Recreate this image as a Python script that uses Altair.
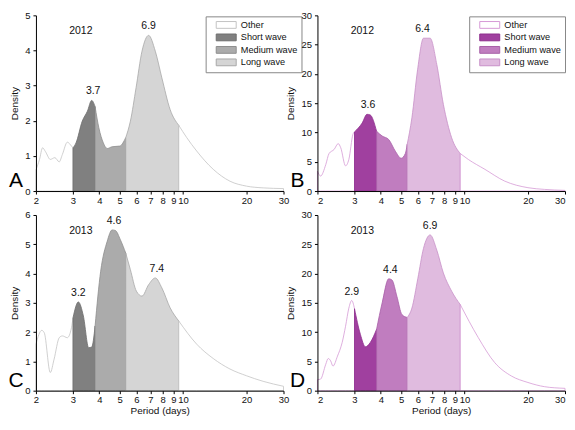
import altair as alt
import pandas as pd

FONT = "Liberation Sans"

seg_names = ["Other", "Short wave", "Medium wave", "Long wave"]
bounds_x = [2.0, 3.0, 3.82, 5.34, 9.54, 30.0]
x_ticks = [2, 3, 4, 5, 6, 7, 8, 9, 10, 20, 30]

# Panel A (2012, grey)
a_x = [2.0, 2.08, 2.15, 2.22, 2.34, 2.46, 2.58, 2.67, 2.82, 2.95, 3.0, 3.10, 3.32, 3.51, 3.68, 3.82,
       3.98, 4.18, 4.36, 4.60, 5.0, 5.34, 5.62, 5.98, 6.38, 6.86, 7.38, 7.93, 8.68, 9.54, 10.41,
       11.6, 13.9, 16.7, 20.0, 24.0, 30.0]
a_y = [0.6, 0.9, 1.23, 1.12, 0.9, 0.95, 0.83, 1.04, 1.39, 1.28, 1.23, 1.37, 1.99, 2.27, 2.58, 2.4,
       1.8, 1.37, 1.21, 1.26, 1.28, 1.52, 1.99, 2.94, 3.98, 4.43, 3.98, 3.22, 2.32, 1.87, 1.52,
       1.14, 0.62, 0.28, 0.14, 0.09, 0.07]
a_peak_x = [3.74, 6.86]
a_peak_y = [2.58, 4.43]
a_peak_lbl = ["3.7", "6.9"]

# Panel B (2012, purple)
b_x = [2.0, 2.07, 2.19, 2.27, 2.40, 2.51, 2.58, 2.72, 2.82, 2.95, 3.0, 3.26, 3.44, 3.56, 3.82, 4.06,
       4.36, 4.69, 5.0, 5.23, 5.34, 5.62, 5.98, 6.38, 6.86, 7.38, 7.93, 8.68, 9.54, 10.41, 12.5,
       15.5, 20.0, 24.0, 30.0]
b_y = [3.4, 2.56, 4.5, 6.4, 7.1, 8.1, 7.4, 4.3, 5.4, 9.7, 10.1, 11.6, 13.1, 13.0, 10.2, 9.4,
       8.8, 6.8, 5.6, 6.4, 8.0, 12.5, 20.7, 26.1, 26.1, 21.6, 14.8, 9.1, 6.4, 5.4, 3.7,
       1.7, 0.57, 0.28, 0.11]
b_peak_x = [3.48, 6.31]
b_peak_y = [13.1, 26.1]
b_peak_lbl = ["3.6", "6.4"]

# Panel C (2013, grey)
c_x = [2.0, 2.13, 2.19, 2.34, 2.44, 2.58, 2.67, 2.82, 2.95, 3.0, 3.18, 3.36, 3.56, 3.68, 3.82, 4.06,
       4.36, 4.60, 4.77, 5.04, 5.34, 5.62, 6.0, 6.38, 6.86, 7.38, 7.93, 8.68, 9.54, 11.6, 13.9,
       16.7, 20.0, 24.0, 30.0]
c_y = [1.59, 2.06, 1.98, 0.62, 1.08, 1.81, 1.87, 1.81, 2.15, 2.49, 3.03, 2.55, 1.47, 1.49, 2.21, 4.08,
       5.1, 5.49, 5.47, 5.15, 4.70, 4.13, 3.40, 3.23, 3.62, 3.85, 3.51, 2.83, 2.38, 1.59, 1.10,
       0.74, 0.51, 0.32, 0.15]
c_peak_x = [3.18, 4.70, 7.51]
c_peak_y = [3.03, 5.49, 3.85]
c_peak_lbl = ["3.2", "4.6", "7.4"]

# Panel D (2013, purple)
d_x = [2.0, 2.07, 2.19, 2.25, 2.31, 2.37, 2.49, 2.62, 2.72, 2.82, 2.91, 3.0, 3.2, 3.38, 3.56, 3.82,
       4.06, 4.36, 4.52, 4.77, 5.04, 5.34, 5.62, 6.0, 6.38, 6.86, 7.38, 7.93, 8.68, 9.54, 11.6,
       13.9, 16.7, 20.0, 24.0, 30.0]
d_y = [1.87, 1.98, 4.5, 5.5, 5.1, 4.2, 5.9, 8.2, 11.0, 14.1, 15.4, 14.0, 9.6, 7.5, 8.2, 10.5,
       15.0, 19.1, 18.9, 16.1, 13.0, 12.5, 14.1, 19.2, 24.3, 26.6, 24.0, 20.1, 17.0, 14.7, 9.1,
       4.8, 2.5, 1.4, 0.68, 0.40]
d_peak_x = [2.91, 4.44, 6.86]
d_peak_y = [15.4, 19.1, 26.6]
d_peak_lbl = ["2.9", "4.4", "6.9"]

grey_fill = ["#ffffff", "#808080", "#ababab", "#d5d5d5"]
grey_stroke = ["#c4c4c4", "#6e6e6e", "#8e8e8e", "#a8a8a8"]
purple_fill = ["#ffffff", "#a0409f", "#c07dbf", "#e0bbdf"]
purple_stroke = ["#d69ad6", "#8e2f8e", "#a860a8", "#c890c8"]

# wide, flat legend swatch (drawn to the right of the symbol anchor)
RECT = "M0.5,-0.85L5.5,-0.85L5.5,0.85L0.5,0.85Z"

W, H = 248, 176


def segments(xs, ys):
    parts = [("Other", "p0"), ("Short wave", "p1"), ("Medium wave", "p2"),
             ("Long wave", "p3"), ("Other", "p4")]
    rows = []
    for i, (seg, pid) in enumerate(parts):
        lo, hi = bounds_x[i], bounds_x[i + 1]
        for x, y in zip(xs, ys):
            if lo <= x <= hi:
                rows.append({"x": x, "y": y, "seg": seg, "part": pid})
    return pd.DataFrame(rows)


def panel(xs, ys, px, py, plbl, ymax, ystep, fills, strokes, year, letter,
          legend_x=None, xtitle=False, flush=False):
    df = segments(xs, ys)
    xscale = alt.Scale(type="log", domain=[2, 30], nice=False)
    yscale = alt.Scale(domain=[0, ymax], nice=False)
    x_enc = alt.X("x:Q", scale=xscale,
                  axis=alt.Axis(values=x_ticks, format="d",
                                title="Period (days)" if xtitle else None,
                                labelFlush=flush,
                                tickSize=3, labelPadding=1, titlePadding=1, zindex=1))
    y_enc = alt.Y("y:Q", scale=yscale, stack=None,
                  axis=alt.Axis(values=list(range(0, ymax + 1, ystep)), title="Density",
                                tickSize=3, labelPadding=3, titlePadding=5, zindex=1))
    if legend_x is not None:
        legend = alt.Legend(orient="none", legendX=legend_x, legendY=1, title=None,
                            symbolType=RECT, symbolSize=64, symbolStrokeWidth=1,
                            labelFont=FONT, labelFontSize=9.2, labelColor="#111",
                            labelOffset=22, rowPadding=1.5, padding=4,
                            strokeColor="#888888", fillColor="#ffffff")
    else:
        legend = None
    area = alt.Chart(df).mark_area(interpolate="monotone", strokeWidth=0.8).encode(
        x=x_enc, y=y_enc,
        fill=alt.Fill("seg:N", scale=alt.Scale(domain=seg_names, range=fills), legend=legend),
        stroke=alt.Stroke("seg:N", scale=alt.Scale(domain=seg_names, range=strokes), legend=legend),
        detail="part:N",
    )
    pk = pd.DataFrame({"x": px, "y": py, "lbl": plbl})
    peaks = alt.Chart(pk).mark_text(baseline="bottom", dy=-4, font=FONT, fontSize=10.5,
                                    color="#111").encode(x=x_enc, y=y_enc, text="lbl:N")
    yr = alt.Chart(pd.DataFrame({"t": [year]})).mark_text(
        font=FONT, fontSize=10.5, color="#111", baseline="middle").encode(
        x=alt.value(45), y=alt.value(16), text="t:N")
    lt = alt.Chart(pd.DataFrame({"t": [letter]})).mark_text(
        font=FONT, fontSize=21, color="#000", baseline="middle").encode(
        x=alt.value(-20), y=alt.value(166), text="t:N")
    return alt.layer(area, peaks, yr, lt).properties(width=W, height=H)


pA = panel(a_x, a_y, a_peak_x, a_peak_y, a_peak_lbl, 5, 1, grey_fill, grey_stroke, "2012", "A", legend_x=170)
pB = panel(b_x, b_y, b_peak_x, b_peak_y, b_peak_lbl, 30, 5, purple_fill, purple_stroke, "2012", "B",
           legend_x=152, flush=True)
pC = panel(c_x, c_y, c_peak_x, c_peak_y, c_peak_lbl, 6, 1, grey_fill, grey_stroke, "2013", "C", xtitle=True)
pD = panel(d_x, d_y, d_peak_x, d_peak_y, d_peak_lbl, 30, 5, purple_fill, purple_stroke, "2013", "D",
           xtitle=True, flush=True)

chart = alt.concat(pA, pB, pC, pD, columns=2, spacing={"row": 24, "column": 34},
                   bounds="flush").resolve_scale(
    fill="independent", stroke="independent"
).properties(
    padding={"left": 0, "top": 2, "right": 0, "bottom": 0}
).configure_view(stroke=None).configure_axis(
    domainColor="#000", tickColor="#000", labelColor="#111", titleColor="#111",
    labelFont=FONT, titleFont=FONT, labelFontSize=9.5, titleFontSize=10,
    titleFontWeight="normal", grid=False
)

chart.save("out.html", embed_options={"renderer": "svg", "actions": False})
